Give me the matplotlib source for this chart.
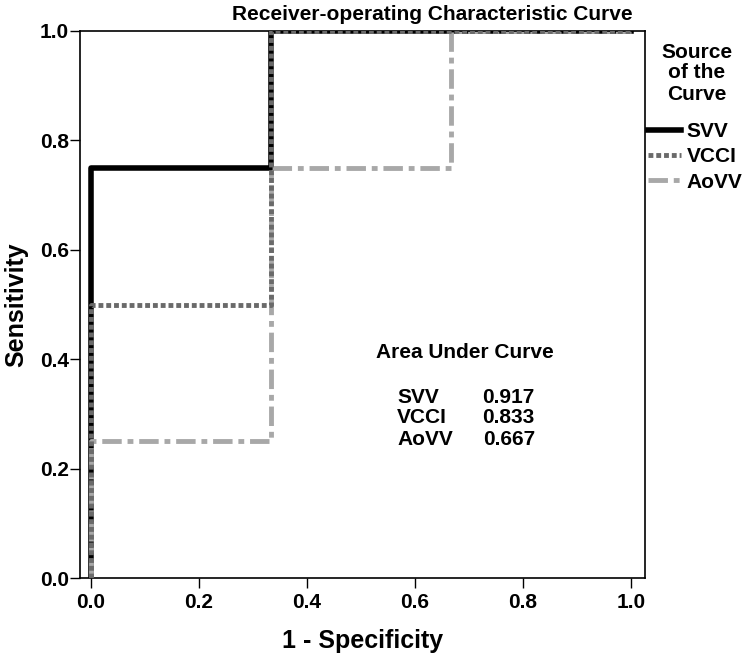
import matplotlib
matplotlib.use("Agg")
import matplotlib.pyplot as plt
from matplotlib.lines import Line2D

plt.rcParams['font.family'] = ['Liberation Sans', 'DejaVu Sans']
plt.rcParams['font.weight'] = 'bold'

svv_x = [0, 0, 0.333, 0.333, 1.0]
svv_y = [0, 0.75, 0.75, 1.0, 1.0]
vcci_x = [0, 0, 0.333, 0.333, 1.0]
vcci_y = [0, 0.5, 0.5, 1.0, 1.0]
aovv_x = [0, 0, 0.333, 0.333, 0.667, 0.667, 1.0]
aovv_y = [0, 0.25, 0.25, 0.75, 0.75, 1.0, 1.0]
series_names = ["SVV", "VCCI", "AoVV"]
auc_values = ["0.917", "0.833", "0.667"]
ticks = [0.0, 0.2, 0.4, 0.6, 0.8, 1.0]

W, H = 750, 661
fig = plt.figure(figsize=(7.5, 6.61), dpi=100)
ax = fig.add_axes([80/W, (H-578)/H, 565/W, 547/H])

svv_style = dict(color='black', lw=4, ls='-')
vcci_style = dict(color='#6a6a6a', lw=3.5, ls=(0, (1, 0.6)))
aovv_style = dict(color='#a8a8a8', lw=3.5, ls=(0, (4, 1.2, 1.2, 1.2)))

ax.plot(aovv_x, aovv_y, zorder=2, **aovv_style)
ax.plot(vcci_x, vcci_y, zorder=3, **vcci_style)
ax.plot(svv_x, svv_y, zorder=1, **svv_style)

ax.set_xlim(-0.0204, 1.026)
ax.set_ylim(0, 1)
ax.set_xticks(ticks)
ax.set_yticks(ticks)
ax.set_xticklabels([f"{t:.1f}" for t in ticks], fontsize=15, fontweight='bold')
ax.set_yticklabels([f"{t:.1f}" for t in ticks], fontsize=15, fontweight='bold')
ax.tick_params(axis='x', direction='out', length=7, width=1, pad=4)
ax.tick_params(axis='y', direction='out', length=7, width=1, pad=1)
for s in ax.spines.values():
    s.set_linewidth(1.2)

ax.set_xlabel("1 - Specificity", fontsize=18, fontweight='bold', labelpad=12)
ax.set_ylabel("Sensitivity", fontsize=18, fontweight='bold', labelpad=8)

fig.text(432/W, 1 - 14/H, "Receiver-operating Characteristic Curve",
         ha='center', va='center', fontsize=15, fontweight='bold')

ax.text(0.693, 0.412, "Area Under Curve", ha='center', va='center',
        fontsize=15, fontweight='bold')
ys = [0.330, 0.293, 0.254]
for name, val, yy in zip(series_names, auc_values, ys):
    ax.text(0.567, yy, name, ha='left', va='center', fontsize=15, fontweight='bold')
    ax.text(0.822, yy, val, ha='right', va='center', fontsize=15, fontweight='bold')

for txt, yy in zip(["Source", "of the", "Curve"], [52, 73, 94]):
    fig.text(697/W, 1 - yy/H, txt, ha='center', va='center',
             fontsize=15, fontweight='bold')

handles = [Line2D([], [], **svv_style),
           Line2D([], [], **vcci_style),
           Line2D([], [], **aovv_style)]
leg = fig.legend(handles, series_names, loc='upper left',
                 bbox_to_anchor=(648/W, 1 - 122/H), frameon=False,
                 prop={'size': 15, 'weight': 'bold'}, handlelength=1.6,
                 handletextpad=0.25, labelspacing=0.3, borderaxespad=0,
                 borderpad=0)

fig.savefig("out.png", dpi=100)
